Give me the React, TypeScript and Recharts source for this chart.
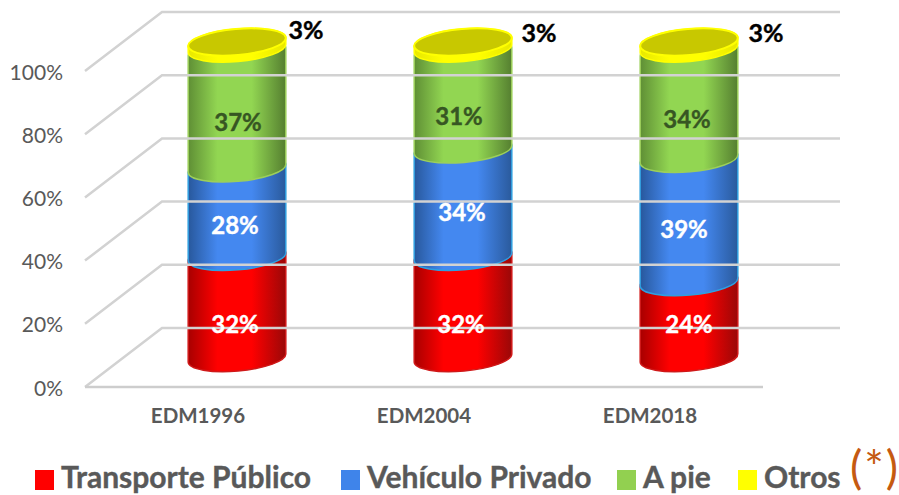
import React from 'react';
import { BarChart, Bar, XAxis, YAxis, Legend, LabelList } from 'recharts';

const categories = ['EDM1996', 'EDM2004', 'EDM2018'];
const transporte = [32, 32, 24];
const vehiculo = [28, 34, 39];
const aPie = [37, 31, 34];
const otros = [3, 3, 3];
const yTicks = [0, 20, 40, 60, 80, 100];

const data = categories.map((name, i) => ({
  name,
  transporte: transporte[i],
  vehiculo: vehiculo[i],
  aPie: aPie[i],
  otros: otros[i],
}));

const FONT = 'Lato, Carlito, sans-serif';

// fake 3D: how far the back wall sits from the front of the floor
const DEPTH_X = 77;
const DEPTH_Y = -59;
const WALL_END = 840;
const FLOOR_END = 763;
// bars stand in the middle of the floor
const BAR_DX = 39;
const BAR_DY = -29;

const RX = 49;
const RY = 13;
const TILT = -5;
const tiltX = RX * Math.cos((TILT * Math.PI) / 180);
const tiltY = RX * Math.sin((TILT * Math.PI) / 180);

const edges: Record<string, string> = {
  transporte: '#d01818',
  vehiculo: '#2f9fe0',
  aPie: '#9ccf5a',
  otros: '#ffff00',
};

// labels were moved by hand in the original
const labelNudge: Record<string, [number, number][]> = {
  transporte: [[-2, 16], [-2, 16], [0, 3]],
  vehiculo: [[-2, 12], [-1, 8], [-5, 8]],
  aPie: [[1, 12], [-4, 15], [-2, 13]],
  otros: [[69, -18], [76, -15], [77, -15]],
};
const labelColors: Record<string, string> = {
  transporte: '#ffffff',
  vehiculo: '#ffffff',
  aPie: '#375623',
  otros: '#000000',
};

const legendLefts = [35, 341, 617, 738];

const makeCylinder = (key: string) => (props: any) => {
  const { x, y, width, height } = props;
  const cx = x + width / 2 + BAR_DX;
  const top = y + BAR_DY;
  // the yellow band looks thinner than its share in the original
  const bottom = y + height + BAR_DY - (key === 'otros' ? 3 : 0);
  const d = [
    `M ${cx - tiltX} ${top - tiltY}`,
    `L ${cx - tiltX} ${bottom - tiltY}`,
    `A ${RX} ${RY} ${TILT} 0 0 ${cx + tiltX} ${bottom + tiltY}`,
    `L ${cx + tiltX} ${top + tiltY}`,
    `A ${RX} ${RY} ${TILT} 0 0 ${cx - tiltX} ${top - tiltY}`,
    'Z',
  ].join(' ');
  return (
    <g>
      <path d={d} fill={`url(#grad-${key})`} stroke={edges[key]} strokeWidth={1.5} />
      {key === 'otros' && (
        <ellipse
          cx={cx}
          cy={top}
          rx={RX}
          ry={RY}
          transform={`rotate(${TILT} ${cx} ${top})`}
          fill="#c8c800"
          stroke="#ffff00"
          strokeWidth={2}
        />
      )}
    </g>
  );
};

const makeLabel = (key: string) => (props: any) => {
  const { x, y, width, height, value, index } = props;
  const [nx, ny] = labelNudge[key][index];
  return (
    <text
      x={x + width / 2 + BAR_DX + nx}
      y={y + height / 2 + BAR_DY + ny}
      textAnchor="middle"
      dominantBaseline="central"
      fill={labelColors[key]}
      stroke={labelColors[key]}
      strokeWidth={0.4}
      fontFamily={FONT}
      fontWeight={700}
      fontSize={key === 'otros' ? 25 : 24}
    >
      {value}%
    </text>
  );
};

const WallTick = (props: any) => {
  const { x, y, payload } = props;
  const backY = y + DEPTH_Y;
  const backX = x + DEPTH_X;
  const isFloor = payload.value === 0;
  return (
    <g>
      <polyline
        points={`${x},${y} ${backX},${backY} ${WALL_END},${backY}`}
        fill="none"
        stroke="#d2d2d2"
        strokeWidth={2.5}
      />
      {isFloor && <line x1={x} y1={y} x2={FLOOR_END} y2={y} stroke="#cdcdcd" strokeWidth={2.5} />}
      <text
        x={x - 22}
        y={y}
        textAnchor="end"
        dominantBaseline="central"
        fill="#595959"
        fontFamily={FONT}
        fontSize={21}
      >
        {payload.value}%
      </text>
    </g>
  );
};

const LegendContent = (props: any) => (
  <div style={{ position: 'relative', height: 50, width: 899 }}>
    {props.payload.map((item: any, i: number) => (
      <div key={item.value} style={{ position: 'absolute', left: legendLefts[i], top: 25, display: 'flex', alignItems: 'center', height: 20, whiteSpace: 'nowrap' }}>
        <span style={{ width: 19, height: 20, background: item.color, display: 'inline-block' }} />
        <span style={{ position: 'relative', top: -4, marginLeft: 7, fontFamily: FONT, fontWeight: 700, fontSize: 30, lineHeight: '20px', color: '#595959', WebkitTextStroke: '0.4px #595959' }}>
          {item.value}
        </span>
      </div>
    ))}
    <span style={{ position: 'absolute', left: 850, top: -1, fontFamily: FONT, fontSize: 46, lineHeight: '46px', color: '#c55a11', letterSpacing: 2, whiteSpace: 'nowrap' }}>
      (*)
    </span>
  </div>
);

const gradient = (id: string, dark: string, mid: string, dark2: string) => (
  <linearGradient id={id} x1="0" y1="0" x2="1" y2="0">
    <stop offset="0%" stopColor={dark} />
    <stop offset="30%" stopColor={mid} />
    <stop offset="65%" stopColor={mid} />
    <stop offset="100%" stopColor={dark2} />
  </linearGradient>
);

export default function App() {
  return (
    <div style={{ position: 'absolute', left: 0, top: 0, width: 899, height: 495, overflow: 'hidden', background: '#fff' }}>
      <BarChart
        width={899}
        height={495}
        data={data}
        barSize={98}
        margin={{ top: 71, right: 136, bottom: 78, left: 25 }}
      >
        <defs>
          {gradient('grad-transporte', '#a80000', '#ff0000', '#9a0808')}
          {gradient('grad-vehiculo', '#28589c', '#4488f0', '#2a5a9c')}
          {gradient('grad-aPie', '#5f8f35', '#92d652', '#557f30')}
          {gradient('grad-otros', '#e8e800', '#ffff00', '#e8e800')}
        </defs>
        <YAxis
          width={60}
          domain={[0, 100]}
          ticks={yTicks}
          interval={0}
          axisLine={false}
          tickLine={false}
          tickSize={0}
          tickMargin={0}
          zIndex={-50}
          tick={<WallTick />}
        />
        <XAxis
          dataKey="name"
          height={30}
          axisLine={false}
          tickLine={false}
          tickSize={0}
          tickMargin={21}
          tick={{ fill: '#595959', fontSize: 20.5, fontWeight: 700, fontFamily: FONT }}
        />
        <Legend
          layout="vertical"
          align="center"
          verticalAlign="middle"
          itemSorter={null}
          content={<LegendContent />}
          wrapperStyle={{ left: 0, top: 445, width: 899, height: 50 }}
        />
        <Bar dataKey="transporte" name="Transporte Público" stackId="a" fill="#ff0000" isAnimationActive={false} shape={makeCylinder('transporte')}>
          <LabelList dataKey="transporte" content={makeLabel('transporte')} />
        </Bar>
        <Bar dataKey="vehiculo" name="Vehículo Privado" stackId="a" fill="#3f84ea" isAnimationActive={false} shape={makeCylinder('vehiculo')}>
          <LabelList dataKey="vehiculo" content={makeLabel('vehiculo')} />
        </Bar>
        <Bar dataKey="aPie" name="A pie" stackId="a" fill="#92d050" isAnimationActive={false} shape={makeCylinder('aPie')}>
          <LabelList dataKey="aPie" content={makeLabel('aPie')} />
        </Bar>
        <Bar dataKey="otros" name="Otros" stackId="a" fill="#ffff00" isAnimationActive={false} shape={makeCylinder('otros')}>
          <LabelList dataKey="otros" content={makeLabel('otros')} />
        </Bar>
      </BarChart>
    </div>
  );
}
